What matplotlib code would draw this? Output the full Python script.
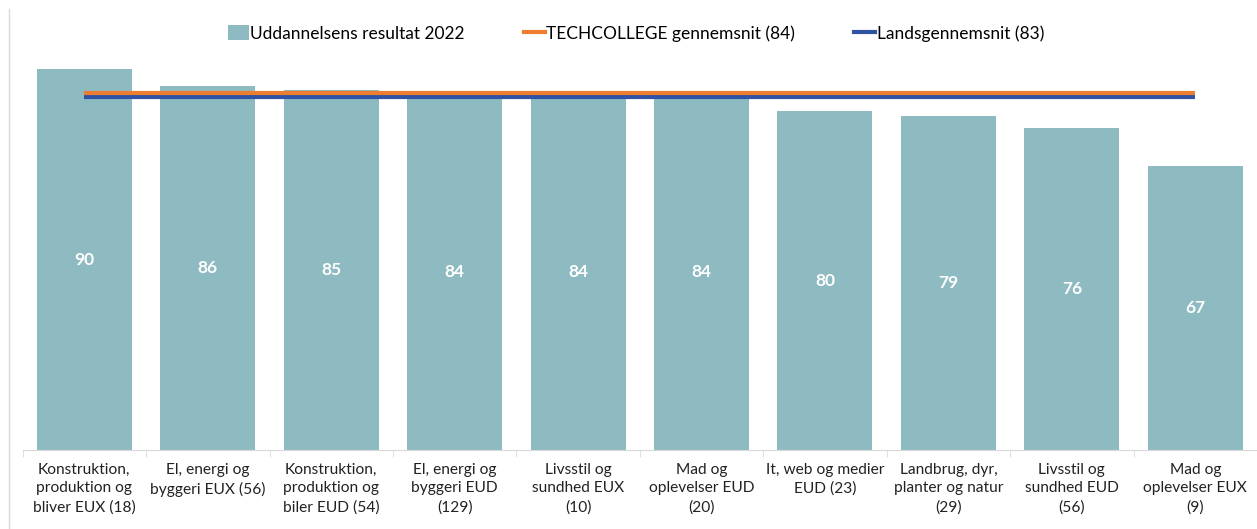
import numpy as np
import matplotlib
matplotlib.use('Agg')
import matplotlib.pyplot as plt
from matplotlib.patches import Patch
from matplotlib.lines import Line2D

plt.rcParams['font.family'] = ['Lato', 'DejaVu Sans']

# --- Data ---
categories = [
    "Konstruktion,\nproduktion og\nbliver EUX (18)",
    "El, energi og\nbyggeri EUX (56)",
    "Konstruktion,\nproduktion og\nbiler EUD (54)",
    "El, energi og\nbyggeri EUD\n(129)",
    "Livsstil og\nsundhed EUX\n(10)",
    "Mad og\noplevelser EUD\n(20)",
    "It, web og medier\nEUD (23)",
    "Landbrug, dyr,\nplanter og natur\n(29)",
    "Livsstil og\nsundhed EUD\n(56)",
    "Mad og\noplevelser EUX\n(9)",
]
resultat = [90, 86, 85, 84, 84, 84, 80, 79, 76, 67]
techcollege_avg = 84.4
lands_avg = 83.5

bar_color = '#8EBAC1'
orange = '#ED7D31'
blue = '#2F52A2'
grey = '#D9D9D9'

fig = plt.figure(figsize=(12.57, 5.29), dpi=100)
ax = fig.add_axes([0.018, 0.1493, 0.982, 0.7467])

x = np.arange(len(categories))
ax.bar(x, resultat, width=0.77, color=bar_color, zorder=1)
ax.plot([x[0], x[-1]], [techcollege_avg] * 2, color=orange, lw=3, zorder=3,
        solid_capstyle='butt')
ax.plot([x[0], x[-1]], [lands_avg] * 2, color=blue, lw=3, zorder=2,
        solid_capstyle='butt')

for xi, v in zip(x, resultat):
    ax.text(xi, v / 2, str(v), ha='center', va='center', color='white',
            fontsize=12.5, fontweight='bold')

ax.set_xlim(-0.5, len(categories) - 0.5)
ax.set_ylim(0, 93.3)
ax.set_yticks([])
for s in ['top', 'right', 'left']:
    ax.spines[s].set_visible(False)
ax.spines['bottom'].set_color(grey)
ax.set_xticks(x)
ax.set_xticklabels(categories, fontsize=11.2, color='#222222', linespacing=1.45)
ax.tick_params(axis='x', which='major', length=0, pad=9)
ax.set_xticks(np.arange(-0.5, len(categories)), minor=True)
ax.tick_params(axis='x', which='minor', length=5, color=grey)

handles = [
    Patch(facecolor=bar_color, label='Uddannelsens resultat 2022'),
    Line2D([], [], color=orange, lw=3, label='TECHCOLLEGE gennemsnit (84)'),
    Line2D([], [], color=blue, lw=3, label='Landsgennemsnit (83)'),
]
fig.legend(handles=handles, loc='center', bbox_to_anchor=(0.506, 0.937), ncol=3,
           frameon=False, fontsize=12.5, columnspacing=3.4, handlelength=1.2,
           handletextpad=0.1, handleheight=0.9)

fig.add_artist(Line2D([9 / 1257, 9 / 1257], [0, 1 - 9 / 529], color=grey, lw=1))

fig.savefig('out.png', dpi=100)
